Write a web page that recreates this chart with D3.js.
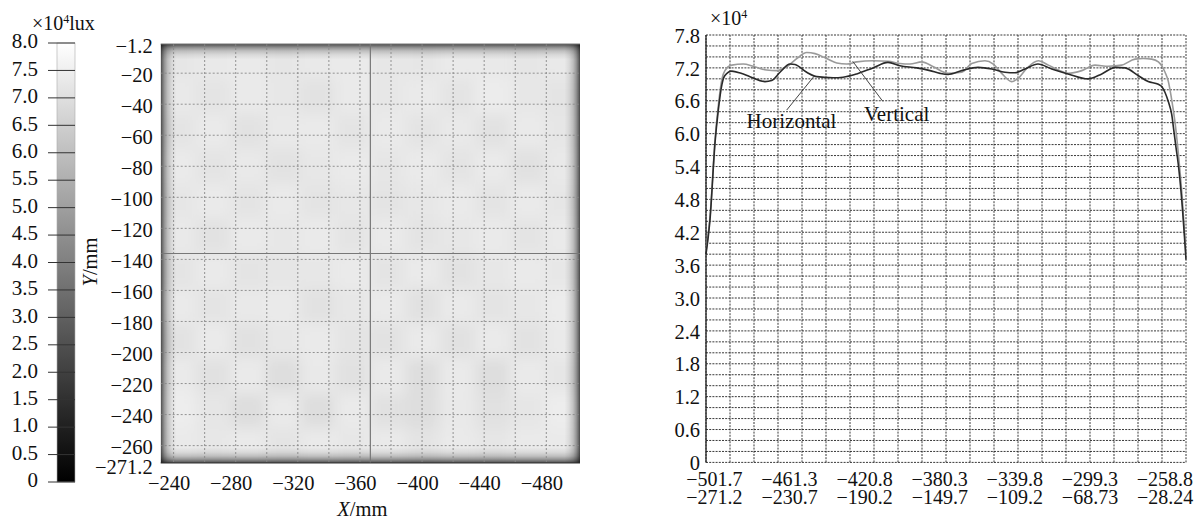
<!DOCTYPE html>
<html>
<head>
<meta charset="utf-8">
<script src="https://cdn.jsdelivr.net/npm/d3@7"></script>
<style>
  html, body { margin: 0; padding: 0; background: #ffffff; }
  svg { display: block; font-family: "Liberation Serif", "Times New Roman", serif; }
</style>
</head>
<body>
<svg id="chart" width="1194" height="522"></svg>
<script>
// ---------- colour bar (illuminance, ×10^4 lux) ----------
const CBAR_TICKS  = [0, 0.5, 1.0, 1.5, 2.0, 2.5, 3.0, 3.5, 4.0, 4.5, 5.0, 5.5, 6.0, 6.5, 7.0, 7.5, 8.0];
const CBAR_LABELS = ["0", "0.5", "1.0", "1.5", "2.0", "2.5", "3.0", "3.5", "4.0", "4.5", "5.0", "5.5", "6.0", "6.5", "7.0", "7.5", "8.0"];

// ---------- illuminance map ----------
const MAP_X_TICKS  = [-240, -280, -320, -360, -400, -440, -480];
const MAP_X_GRID   = [-240, -260, -280, -300, -320, -340, -360, -380, -400, -420, -440, -460, -480];
const MAP_Y_TICKS  = [-1.2, -20, -40, -60, -80, -100, -120, -140, -160, -180, -200, -220, -240, -260, -271.2];
const MAP_Y_GRID   = [-20, -40, -60, -80, -100, -120, -140, -160, -180, -200, -220, -240, -260];
const SECTION_X = -366.7;   // vertical section line
const SECTION_Y = -136.2;   // horizontal section line
// illuminance (×10^4 lux) over a 12 × 12 grid of the plate, top row first
const MAP_VALUES = [
  [7.20, 7.30, 7.35, 7.20, 7.30, 7.35, 7.25, 7.20, 7.35, 7.30, 7.20, 7.30],
  [7.30, 7.15, 7.35, 7.25, 7.10, 7.35, 7.25, 7.35, 7.15, 7.40, 7.25, 7.15],
  [7.15, 7.35, 7.10, 7.30, 7.35, 7.15, 7.35, 7.15, 7.30, 7.10, 7.35, 7.20],
  [7.35, 7.15, 7.30, 7.10, 7.25, 7.35, 7.20, 7.35, 7.15, 7.35, 7.05, 7.30],
  [7.20, 7.35, 7.15, 7.35, 7.15, 7.25, 7.15, 7.25, 7.35, 7.15, 7.35, 7.20],
  [7.30, 7.10, 7.35, 7.25, 7.35, 7.15, 7.35, 7.15, 7.25, 7.35, 7.15, 7.35],
  [7.15, 7.35, 7.15, 7.20, 7.25, 7.35, 7.15, 7.35, 7.10, 7.25, 7.35, 7.25],
  [7.35, 7.15, 7.30, 7.35, 7.10, 7.25, 7.35, 7.05, 7.35, 7.15, 7.25, 7.40],
  [7.10, 7.35, 7.05, 7.25, 7.35, 7.15, 7.10, 7.35, 7.05, 7.35, 7.10, 7.35],
  [7.35, 7.05, 7.35, 6.95, 7.30, 7.05, 7.35, 6.95, 7.35, 6.95, 7.35, 7.20],
  [7.45, 7.20, 6.95, 7.35, 6.95, 7.35, 7.05, 6.95, 7.30, 7.05, 7.20, 7.45],
  [7.35, 7.25, 7.35, 7.15, 7.35, 7.25, 7.35, 7.15, 7.35, 7.20, 7.35, 7.35]
];
// fall-off near the plate border: distance from edge (mm) and relative level
const EDGE_OFFSET = [0, 1, 2.5, 4.5, 7, 10];
const EDGE_LEVEL  = [0.30, 0.46, 0.65, 0.82, 0.93, 1.0];

// ---------- section profiles ----------
const PROFILE_X_TICKS  = [-501.7, -461.3, -420.8, -380.3, -339.8, -299.3, -258.8];
const PROFILE_X_LABELS = ["−501.7", "−461.3", "−420.8", "−380.3", "−339.8", "−299.3", "−258.8"];
const PROFILE_Y2_TICKS  = [-271.2, -230.7, -190.2, -149.7, -109.2, -68.73, -28.24];
const PROFILE_Y2_LABELS = ["−271.2", "−230.7", "−190.2", "−149.7", "−109.2", "−68.73", "−28.24"];
const PROFILE_V_TICKS = [0, 0.6, 1.2, 1.8, 2.4, 3.0, 3.6, 4.2, 4.8, 5.4, 6.0, 6.6, 7.2, 7.8];
const PROFILE_V_LABELS = ["0", "0.6", "1.2", "1.8", "2.4", "3.0", "3.6", "4.2", "4.8", "5.4", "6.0", "6.6", "7.2", "7.8"];

// horizontal section: X position (mm) and illuminance (×10^4 lux)
const H_POS = [-506.0, -503.8, -501.1, -499.4, -497.4, -495.8, -492.1, -487.1, -482.3, -474.2,
               -470.6, -466.1, -460.7, -458.0, -451.7, -446.3, -437.5, -432.1, -424.7, -416.0,
               -407.9, -401.4, -392.4, -385.2, -379.8, -375.5, -368.1, -359.3, -351.9, -344.8,
               -339.4, -334.0, -327.0, -319.6, -310.8, -300.0, -292.6, -285.4, -280.0, -273.0,
               -267.6, -262.1, -260.3, -258.5, -256.7, -254.9, -254.0, -252.6, -251.4, -249.4, -247.2];
const H_VAL = [3.80, 4.45, 5.85, 6.42, 6.90, 7.06, 7.14, 7.10, 7.04, 6.95,
               6.97, 7.12, 7.27, 7.26, 7.12, 7.04, 7.02, 7.03, 7.09, 7.20,
               7.30, 7.24, 7.20, 7.15, 7.10, 7.08, 7.15, 7.21, 7.18, 7.12,
               7.11, 7.18, 7.27, 7.18, 7.09, 7.00, 7.09, 7.21, 7.20, 7.06,
               6.95, 6.90, 6.86, 6.75, 6.58, 6.35, 6.12, 5.75, 5.45, 4.75, 3.70];

// vertical section: position (mm, upper scale) and illuminance (×10^4 lux)
const V_POS = [-506.0, -503.8, -501.1, -499.4, -497.4, -495.8, -492.1, -485.9, -480.5, -473.3,
               -467.9, -462.5, -457.1, -451.7, -447.2, -440.9, -435.5, -430.1, -424.7, -415.8,
               -407.7, -401.4, -396.0, -389.7, -383.4, -375.4, -368.1, -362.7, -355.6, -351.1,
               -346.6, -341.2, -337.6, -333.1, -326.8, -321.4, -316.0, -310.7, -303.4, -296.3,
               -289.1, -281.9, -274.7, -270.2, -265.7, -262.1, -258.5, -256.7, -255.3, -253.1,
               -251.5, -249.4, -247.2];
const V_VAL = [3.85, 4.50, 5.90, 6.50, 7.00, 7.15, 7.25, 7.27, 7.23, 7.16,
               7.15, 7.22, 7.37, 7.48, 7.46, 7.37, 7.29, 7.27, 7.31, 7.33,
               7.32, 7.28, 7.27, 7.31, 7.22, 7.10, 7.12, 7.28, 7.33, 7.27,
               7.10, 6.95, 7.01, 7.19, 7.33, 7.25, 7.16, 7.10, 7.15, 7.25,
               7.23, 7.25, 7.36, 7.37, 7.36, 7.31, 7.12, 6.95, 6.70, 6.20,
               5.70, 4.90, 3.80];

// curve labels: text anchor, leader start and leader end (mm, ×10^4 lux)
const CURVE_LABELS = [
  { text: "Horizontal", at: [-484.1, 6.10], from: [-462.5, 6.43], to: [-447.2, 7.07] },
  { text: "Vertical",   at: [-420.8, 6.23], from: [-410.7, 6.59], to: [-426.9, 7.32] }
];

const svg = d3.select("#chart");
const defs = svg.append("defs");
const grey = d3.scaleLinear().domain([0, 8]).range(["#000000", "#ffffff"]);
const FS = 20.5;

// ===== colour bar =====
const cbY = d3.scaleLinear().domain([0, 8]).range([482, 43]);
const cbGrad = defs.append("linearGradient").attr("id", "cbGrad")
  .attr("x1", 0).attr("y1", 1).attr("x2", 0).attr("y2", 0);
cbGrad.selectAll("stop").data(CBAR_TICKS).join("stop")
  .attr("offset", d => d / 8).attr("stop-color", d => grey(d));
svg.append("rect").attr("x", 57).attr("y", cbY(8)).attr("width", 18)
  .attr("height", cbY(0) - cbY(8)).attr("fill", "url(#cbGrad)")
  .attr("stroke", "#aaa").attr("stroke-width", 0.6);
svg.append("g").selectAll("line").data(CBAR_TICKS).join("line")
  .attr("x1", 48).attr("x2", 75).attr("y1", d => cbY(d)).attr("y2", d => cbY(d))
  .attr("stroke", "#333").attr("stroke-width", 1);
svg.append("g").selectAll("text").data(CBAR_TICKS).join("text")
  .attr("x", 38).attr("y", d => cbY(d)).attr("dy", "0.25em")
  .attr("text-anchor", "end").attr("font-size", 21).attr("fill", "#111")
  .text((d, i) => CBAR_LABELS[i]);
const cbTitle = svg.append("text").attr("x", 32).attr("y", 30)
  .attr("font-size", 20).attr("fill", "#111");
cbTitle.append("tspan").text("×10");
cbTitle.append("tspan").attr("baseline-shift", "super").attr("font-size", 12).text("4");
cbTitle.append("tspan").text("lux");

// ===== illuminance map =====
const MX0 = 160.7, MX1 = 580, MY0 = 44, MY1 = 463;
const mX = d3.scaleLinear().domain([-231.7, -501.7]).range([MX0, MX1]);
const mY = d3.scaleLinear().domain([-1.2, -271.2]).range([MY0, MY1]);
const nCols = MAP_VALUES[0].length, nRows = MAP_VALUES.length;
const colBand = d3.scaleBand().domain(d3.range(nCols)).range([MX0, MX1]);
const rowBand = d3.scaleBand().domain(d3.range(nRows)).range([MY0, MY1]);

defs.append("clipPath").attr("id", "mapClip").append("rect")
  .attr("x", MX0).attr("y", MY0).attr("width", MX1 - MX0).attr("height", MY1 - MY0);
defs.append("filter").attr("id", "soft")
  .attr("x", "-10%").attr("y", "-10%").attr("width", "120%").attr("height", "120%")
  .append("feGaussianBlur").attr("stdDeviation", 6.5);

const mapG = svg.append("g").attr("clip-path", "url(#mapClip)");
const cells = [];
MAP_VALUES.forEach((row, r) => row.forEach((v, c) => cells.push({ r, c, v })));
const pad = 30;
mapG.append("g").attr("filter", "url(#soft)")
  .selectAll("rect").data(cells).join("rect")
  .attr("x", d => colBand(d.c) - (d.c === 0 ? pad : 0))
  .attr("y", d => rowBand(d.r) - (d.r === 0 ? pad : 0))
  .attr("width", d => colBand.bandwidth() + 0.5 + (d.c === 0 || d.c === nCols - 1 ? pad : 0))
  .attr("height", d => rowBand.bandwidth() + 0.5 + (d.r === 0 || d.r === nRows - 1 ? pad : 0))
  .attr("fill", d => grey(d.v));

// border fall-off, one strip per side
const edgeW = Math.abs(mX(-231.7 - EDGE_OFFSET[EDGE_OFFSET.length - 1]) - mX(-231.7));
const sides = [
  { id: "eL", x1: 0, y1: 0, x2: 1, y2: 0, x: MX0, y: MY0, w: edgeW, h: MY1 - MY0 },
  { id: "eR", x1: 1, y1: 0, x2: 0, y2: 0, x: MX1 - edgeW, y: MY0, w: edgeW, h: MY1 - MY0 },
  { id: "eT", x1: 0, y1: 0, x2: 0, y2: 1, x: MX0, y: MY0, w: MX1 - MX0, h: edgeW },
  { id: "eB", x1: 0, y1: 1, x2: 0, y2: 0, x: MX0, y: MY1 - edgeW, w: MX1 - MX0, h: edgeW }
];
sides.forEach(s => {
  const g = defs.append("linearGradient").attr("id", s.id)
    .attr("x1", s.x1).attr("y1", s.y1).attr("x2", s.x2).attr("y2", s.y2);
  g.selectAll("stop").data(EDGE_OFFSET).join("stop")
    .attr("offset", d => d / EDGE_OFFSET[EDGE_OFFSET.length - 1])
    .attr("stop-color", "#000")
    .attr("stop-opacity", (d, i) => 1 - EDGE_LEVEL[i]);
  mapG.append("rect").attr("x", s.x).attr("y", s.y).attr("width", s.w).attr("height", s.h)
    .attr("fill", `url(#${s.id})`);
});

// grid
mapG.append("g").selectAll("line").data(MAP_X_GRID).join("line")
  .attr("x1", d => mX(d)).attr("x2", d => mX(d)).attr("y1", MY0).attr("y2", MY1)
  .attr("stroke", "#888").attr("stroke-width", 0.9).attr("stroke-dasharray", "2,2");
mapG.append("g").selectAll("line").data(MAP_Y_GRID).join("line")
  .attr("y1", d => mY(d)).attr("y2", d => mY(d)).attr("x1", MX0).attr("x2", MX1)
  .attr("stroke", "#888").attr("stroke-width", 0.9).attr("stroke-dasharray", "2,2");
// section lines
mapG.append("line").attr("x1", mX(SECTION_X)).attr("x2", mX(SECTION_X))
  .attr("y1", MY0).attr("y2", MY1).attr("stroke", "#777").attr("stroke-width", 1.2);
mapG.append("line").attr("y1", mY(SECTION_Y)).attr("y2", mY(SECTION_Y))
  .attr("x1", MX0).attr("x2", MX1).attr("stroke", "#777").attr("stroke-width", 1.2);
svg.append("line").attr("x1", MX0).attr("x2", MX1).attr("y1", MY0).attr("y2", MY0)
  .attr("stroke", "#777").attr("stroke-width", 1.2);
svg.append("line").attr("x1", MX0).attr("x2", MX1).attr("y1", MY1).attr("y2", MY1)
  .attr("stroke", "#333").attr("stroke-width", 1.2);

// map axes
const mapXAxis = svg.append("g").attr("transform", `translate(0,${MY1})`)
  .call(d3.axisBottom(mX).tickValues(MAP_X_TICKS).tickSize(0).tickPadding(12)
    .tickFormat(d => "−" + Math.abs(d)));
mapXAxis.select(".domain").remove();
mapXAxis.selectAll("text").attr("font-size", FS).attr("font-family", "Liberation Serif")
  .attr("fill", "#111").attr("dx", -5);
const mapYAxis = svg.append("g").attr("transform", `translate(${MX0},0)`)
  .call(d3.axisLeft(mY).tickValues(MAP_Y_TICKS).tickSize(0).tickPadding(8)
    .tickFormat(d => "−" + Math.abs(d)));
mapYAxis.select(".domain").remove();
mapYAxis.selectAll("text").attr("font-size", FS).attr("font-family", "Liberation Serif")
  .attr("fill", "#111").attr("dy", (d, i) => i === MAP_Y_TICKS.length - 1 ? "0.5em" : "0.4em");

const xTitle = svg.append("text").attr("x", (MX0 + MX1) / 2 - 8).attr("y", 516)
  .attr("text-anchor", "middle").attr("font-size", FS).attr("fill", "#111");
xTitle.append("tspan").attr("font-style", "italic").text("X");
xTitle.append("tspan").text("/mm");
const yTitle = svg.append("text").attr("transform", "translate(97,262) rotate(-90)")
  .attr("text-anchor", "middle").attr("font-size", FS).attr("fill", "#111");
yTitle.append("tspan").attr("font-style", "italic").text("Y");
yTitle.append("tspan").text("/mm");

// ===== section profiles =====
const PX0 = 706, PX1 = 1186;
const pX  = d3.scaleLinear().domain([-506.0, -247.2]).range([PX0, PX1]);
const pX2 = d3.scaleLinear().domain([-275.5, -16.7]).range([PX0, PX1]);
const pY  = d3.scaleLinear().domain([0, 7.8]).range([462.4, 35]);

const gridG = svg.append("g");
const vLines = d3.range(21).map(i => pX.domain()[0] + i * (pX.domain()[1] - pX.domain()[0]) / 20);
const hLines = d3.range(40).map(i => i * 0.2);
gridG.selectAll(".hg").data(hLines).join("line").attr("class", "hg")
  .attr("x1", PX0).attr("x2", PX1).attr("y1", d => pY(d)).attr("y2", d => pY(d))
  .attr("stroke", "#222").attr("stroke-width", 0.9).attr("stroke-dasharray", "2,1.2");
gridG.selectAll(".vg").data(vLines).join("line").attr("class", "vg")
  .attr("x1", d => pX(d)).attr("x2", d => pX(d)).attr("y1", pY(0)).attr("y2", pY(7.8))
  .attr("stroke", "#222").attr("stroke-width", 0.9).attr("stroke-dasharray", "2,1.2");
svg.append("line").attr("x1", PX0).attr("x2", PX0).attr("y1", pY(0)).attr("y2", pY(7.8))
  .attr("stroke", "#222").attr("stroke-width", 1.3);

const line = d3.line().curve(d3.curveMonotoneX).x(d => pX(d[0])).y(d => pY(d[1]));
svg.append("path").datum(V_POS.map((p, i) => [p, V_VAL[i]]))
  .attr("d", line).attr("fill", "none").attr("stroke", "#9a9a9a").attr("stroke-width", 1.6);
svg.append("path").datum(H_POS.map((p, i) => [p, H_VAL[i]]))
  .attr("d", line).attr("fill", "none").attr("stroke", "#2a2a2a").attr("stroke-width", 1.6);

// curve labels
CURVE_LABELS.forEach(l => {
  svg.append("line").attr("x1", pX(l.from[0])).attr("y1", pY(l.from[1]))
    .attr("x2", pX(l.to[0])).attr("y2", pY(l.to[1]))
    .attr("stroke", "#444").attr("stroke-width", 1);
  svg.append("text").attr("x", pX(l.at[0])).attr("y", pY(l.at[1]))
    .attr("font-size", 21).attr("fill", "#111").text(l.text);
});

// profile axes
const pYAxis = svg.append("g").attr("transform", `translate(${PX0},0)`)
  .call(d3.axisLeft(pY).tickValues(PROFILE_V_TICKS).tickSize(0).tickPadding(6)
    .tickFormat((d, i) => PROFILE_V_LABELS[i]));
pYAxis.select(".domain").remove();
pYAxis.selectAll("text").attr("font-size", FS).attr("font-family", "Liberation Serif")
  .attr("fill", "#111").attr("dy", "0.35em");

const pXAxis = svg.append("g").attr("transform", `translate(0,${pY(0)})`)
  .call(d3.axisBottom(pX).tickValues(PROFILE_X_TICKS).tickSize(0).tickPadding(9)
    .tickFormat((d, i) => PROFILE_X_LABELS[i]));
pXAxis.select(".domain").remove();
pXAxis.selectAll("text").attr("font-size", 20).attr("font-family", "Liberation Serif").attr("fill", "#111");
const pXAxis2 = svg.append("g").attr("transform", `translate(0,${pY(0) + 18})`)
  .call(d3.axisBottom(pX2).tickValues(PROFILE_Y2_TICKS).tickSize(0).tickPadding(9)
    .tickFormat((d, i) => PROFILE_Y2_LABELS[i]));
pXAxis2.select(".domain").remove();
pXAxis2.selectAll("text").attr("font-size", 20).attr("font-family", "Liberation Serif").attr("fill", "#111");

const pTitle = svg.append("text").attr("x", 710).attr("y", 25)
  .attr("font-size", 20).attr("fill", "#111");
pTitle.append("tspan").text("×10");
pTitle.append("tspan").attr("baseline-shift", "super").attr("font-size", 12).text("4");
</script>
</body>
</html>
